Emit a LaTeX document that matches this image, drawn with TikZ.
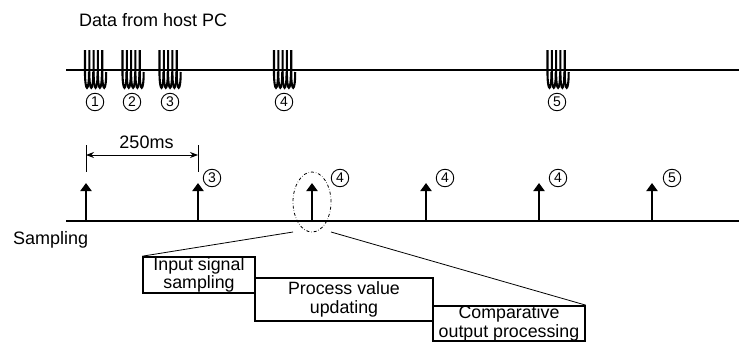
\documentclass[tikz,border=0pt]{standalone}
\usepackage{fontspec}
\setmainfont{Liberation Sans}
\usetikzlibrary{arrows.meta,shapes.geometric}
\begin{document}
\begin{tikzpicture}[x=1pt,y=-1pt,
  lbl/.style={font=\fontsize{18}{20}\selectfont, inner sep=0pt},
  num/.style={circle, draw, line width=0.9pt, minimum size=17.5pt, inner sep=0pt,
    font=\fontsize{14}{14}\selectfont},
  proc/.style={draw, line width=1.6pt, fill=white, align=center,
    font=\fontsize{17.8}{18.5}\selectfont, inner sep=0pt},
  axis/.style={line width=2pt},
  samp/.style={line width=2pt, -{Triangle[width=11pt,length=8pt]}},
  coil/.style={line width=2.1pt},
  thinline/.style={line width=0.8pt},
  dimline/.style={line width=0.8pt, {Stealth[length=8pt,width=6pt]}-{Stealth[length=8pt,width=6pt]}}]
\useasboundingbox (0,0) rectangle (739,343);
% titles
\node[lbl, anchor=base west] (title) at (79,26) {Data from host PC};
\node[lbl, anchor=base west] (samplbl) at (13,244) {Sampling};
% data line
\coordinate (dl) at (66,70);
\coordinate (dr) at (739,70);
\draw[axis] (dl) -- (dr);
% bursts (coils)
\foreach \cx in {95,132.5,169.5,284,557.5}{
  \foreach \i in {0,...,4}{
    \draw[coil] ({\cx-10+\i*4.3},50) -- ({\cx-10+\i*4.3},72)
      .. controls ({\cx-10+\i*4.3},93) and ({\cx-6+\i*4.3},93) .. ({\cx-6+\i*4.3},72);
  }
}
\node[num] (n1) at (95,102) {1};
\node[num] (n2) at (132,102) {2};
\node[num] (n3) at (170,102) {3};
\node[num] (n4) at (284,102) {4};
\node[num] (n5) at (557,102) {5};
% sampling line
\coordinate (sl) at (66,221);
\coordinate (sr) at (739,221);
\draw[axis] (sl) -- (sr);
\foreach \k/\x in {1/86,2/198,3/312,4/426,5/539,6/652}{
  \coordinate (b\k) at (\x,221);
  \coordinate (t\k) at (\x,183);
  \draw[samp] (b\k) -- (t\k);
}
\node[num] (s2) at (212,178) {3};
\node[num] (s3) at (340,178) {4};
\node[num] (s4) at (445,178) {4};
\node[num] (s5) at (558,178) {4};
\node[num] (s6) at (672,178) {5};
% dimension
\coordinate (d1t) at (86,145); \coordinate (d1b) at (86,172);
\coordinate (d2t) at (198,145); \coordinate (d2b) at (198,172);
\draw[thinline] (d1t) -- (d1b);
\draw[thinline] (d2t) -- (d2b);
\coordinate (a1) at (86,155); \coordinate (a2) at (198,155);
\draw[dimline] (a1) -- (a2);
\node[lbl, anchor=base] (ms) at (146.5,148) {250ms};
% zoom ellipse
\node[ellipse, draw, dash dot, line width=0.8pt, minimum width=38pt, minimum height=60pt, inner sep=0pt] (zoomell) at (312,202) {};
\coordinate (zl) at (293,232);
\coordinate (zr) at (331,232);
% boxes
\node[proc, minimum width=112pt, minimum height=36pt] (box1) at (199,275) {Input signal\\sampling};
\node[proc, minimum width=178pt, minimum height=43pt] (box2) at (344,299.5) {Process value\\updating};
\node[proc, minimum width=152pt, minimum height=35pt] (box3) at (509,323.5) {Comparative\\output processing};
\draw[thinline] (box1.north west) -- (zl);
\draw[thinline] (box3.north east) -- (zr);
\end{tikzpicture}
\end{document}
